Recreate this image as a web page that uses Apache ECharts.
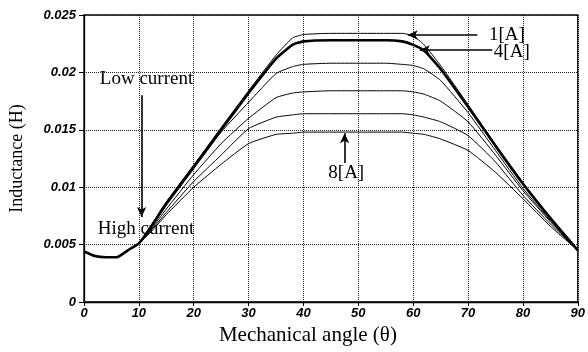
<!DOCTYPE html>
<html>
<head>
<meta charset="utf-8">
<script src="https://cdn.jsdelivr.net/npm/echarts@6/dist/echarts.min.js"></script>
<style>
  html, body { margin: 0; padding: 0; background: #fff; }
  #chart { width: 588px; height: 352px; }
</style>
</head>
<body>
<div id="chart"></div>
<script>
// mechanical angle (deg)
const angles = [0, 2, 4, 6, 8, 10, 12, 15, 20, 25, 30, 35, 38, 40, 45, 50, 55, 58, 60, 62, 65, 70, 75, 80, 85, 90]

// inductance (H) for each current
const i1 = [0.0044, 0.0040, 0.0039, 0.0039, 0.0045, 0.0051, 0.0065, 0.0087, 0.0119, 0.0152, 0.0184, 0.0215, 0.0230, 0.0233, 0.0234, 0.0234, 0.0234, 0.0234, 0.0232, 0.0224, 0.0206, 0.0172, 0.0137, 0.0104, 0.0074, 0.0045]
const i4 = [0.0044, 0.0040, 0.0039, 0.0039, 0.0045, 0.0051, 0.0064, 0.0086, 0.0118, 0.0150, 0.0182, 0.0212, 0.0224, 0.0227, 0.0228, 0.0228, 0.0228, 0.0227, 0.0224, 0.0219, 0.0203, 0.0170, 0.0136, 0.0103, 0.0073, 0.0045]
const i5 = [0.0044, 0.0040, 0.0039, 0.0039, 0.0045, 0.0051, 0.0063, 0.0084, 0.0116, 0.0148, 0.0174, 0.0199, 0.0205, 0.0207, 0.0208, 0.0208, 0.0208, 0.0207, 0.0206, 0.0203, 0.0193, 0.0165, 0.0132, 0.0099, 0.0071, 0.0045]
const i6 = [0.0044, 0.0040, 0.0039, 0.0039, 0.0045, 0.0051, 0.0062, 0.0081, 0.0111, 0.0138, 0.0160, 0.0178, 0.0182, 0.0183, 0.0184, 0.0184, 0.0184, 0.0184, 0.0183, 0.0181, 0.0175, 0.0157, 0.0128, 0.0097, 0.0070, 0.0045]
const i7 = [0.0044, 0.0040, 0.0039, 0.0039, 0.0045, 0.0051, 0.0061, 0.0078, 0.0105, 0.0128, 0.0151, 0.0161, 0.0163, 0.0164, 0.0164, 0.0164, 0.0164, 0.0164, 0.0163, 0.0161, 0.0157, 0.0145, 0.0122, 0.0093, 0.0068, 0.0045]
const i8 = [0.0044, 0.0040, 0.0039, 0.0039, 0.0045, 0.0051, 0.0060, 0.0076, 0.0100, 0.0120, 0.0138, 0.0146, 0.0147, 0.0148, 0.0148, 0.0148, 0.0148, 0.0148, 0.0147, 0.0146, 0.0142, 0.0132, 0.0113, 0.0090, 0.0066, 0.0045]

const seriesNames = ['1[A]', '4[A]', '5[A]', '6[A]', '7[A]', '8[A]']
const seriesValues = [i1, i4, i5, i6, i7, i8]

// annotation texts [angle, inductance]
const noteTexts = ['Low current', 'High current', '1[A]', '4[A]', '8[A]']
const notePos = [[11.4, 0.0194], [2.5, 0.0064], [73.8, 0.0233], [74.7, 0.0218], [47.8, 0.0112]]
const noteAlign = ['center', 'left', 'left', 'left', 'center']
// arrows [from, to]
const arrows = [
  [[10.5, 0.0180], [10.5, 0.0074]],
  [[71.7, 0.02326], [59.0, 0.02326]],
  [[74.4, 0.02195], [61.2, 0.02195]],
  [[47.5, 0.0121], [47.5, 0.0147]]
]

const serif = 'Liberation Serif'
const sans = 'Liberation Sans'

const chart = echarts.init(document.getElementById('chart'))

const series = seriesNames.map((name, k) => ({
  name: name,
  type: 'line',
  data: angles.map((a, j) => [a, seriesValues[k][j]]),
  showSymbol: false,
  smooth: 0.15,
  lineStyle: { color: '#000', width: k === 1 ? 2.6 : 1 },
  z: k === 1 ? 3 : 2
}))

series.push({
  name: 'notes',
  type: 'line',
  data: [],
  markPoint: {
    symbol: 'circle',
    symbolSize: 0,
    data: noteTexts.map((t, i) => ({
      coord: notePos[i],
      label: {
        show: true,
        formatter: t,
        position: noteAlign[i] === 'left' ? 'right' : 'inside',
        distance: 0,
        color: '#000',
        fontFamily: serif,
        fontSize: 19
      }
    }))
  },
  markLine: {
    silent: true,
    symbol: ['none', 'arrow'],
    symbolSize: [7, 10],
    label: { show: false },
    lineStyle: { color: '#000', type: 'solid', width: 1.6 },
    data: arrows.map(a => [{ coord: a[0] }, { coord: a[1] }])
  }
})

const option = {
  animation: false,
  grid: {
    left: 81,
    right: 8,
    top: 15,
    bottom: 50,
    show: true,
    borderColor: '#000',
    borderWidth: 1.3
  },
  xAxis: {
    type: 'value',
    min: 0,
    max: 90,
    interval: 10,
    name: 'Mechanical angle (\u03b8)',
    nameLocation: 'middle',
    nameGap: 23,
    nameTextStyle: { fontFamily: serif, fontSize: 21, color: '#000', padding: [0, 46, 0, 0] },
    axisLine: { lineStyle: { color: '#000', width: 1.3 } },
    axisTick: { show: true, length: 4, lineStyle: { color: '#000' } },
    axisLabel: { color: '#000', fontFamily: sans, fontStyle: 'italic', fontWeight: 'bold', fontSize: 13, margin: 5 },
    splitLine: { show: true, lineStyle: { color: '#222', type: 'dotted', width: 1 } }
  },
  yAxis: {
    type: 'value',
    min: 0,
    max: 0.025,
    interval: 0.005,
    name: 'Inductance (H)',
    nameLocation: 'middle',
    nameGap: 58,
    nameTextStyle: { fontFamily: serif, fontSize: 18, color: '#000' },
    axisLine: { show: true, lineStyle: { color: '#000', width: 1.3 } },
    axisTick: { show: true, length: 5, lineStyle: { color: '#000' } },
    axisLabel: { color: '#000', fontFamily: sans, fontStyle: 'italic', fontWeight: 'bold', fontSize: 13, margin: 8 },
    splitLine: { show: true, lineStyle: { color: '#222', type: 'dotted', width: 1 } }
  },
  series: series
}

chart.setOption(option)
</script>
</body>
</html>
